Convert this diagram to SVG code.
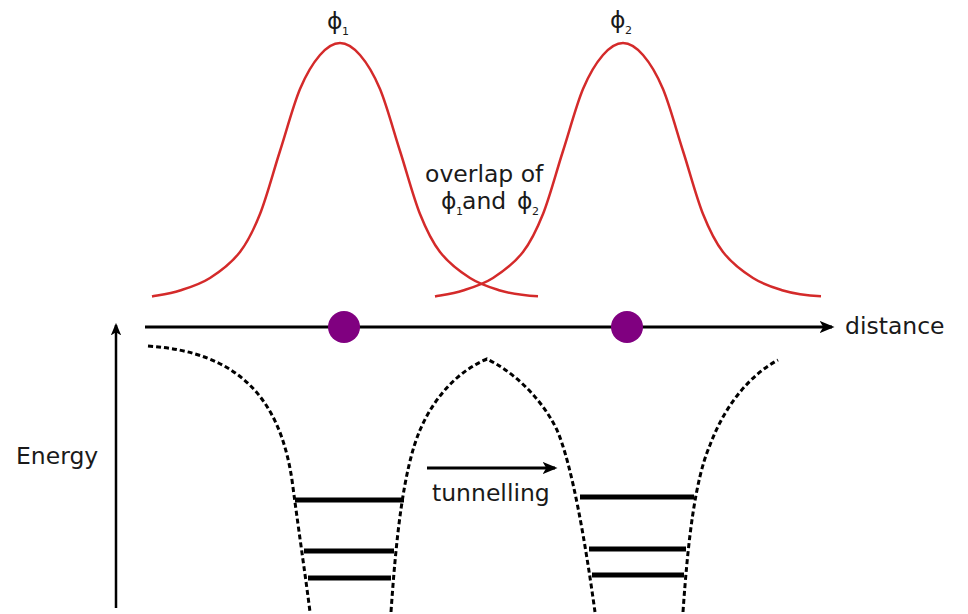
<svg xmlns="http://www.w3.org/2000/svg" width="968" height="614" viewBox="0 0 968 614">
<style>
text{font-family:"DejaVu Sans","Liberation Sans",sans-serif;fill:#1a1a1a}
.lbl{font-size:23.5px}
.sub{font-size:11px}
.wave{fill:none;stroke:#d42a2a;stroke-width:2.5}
.pot{fill:none;stroke:#000;stroke-width:3;stroke-dasharray:5 3}
.lvl{stroke:#000;stroke-width:5}
.ax{stroke:#000;stroke-width:3;fill:none}
</style>
<defs>
<marker id="ah" viewBox="0 0 12 10" refX="10" refY="5" markerWidth="5" markerHeight="4.5" orient="auto" markerUnits="strokeWidth">
<path d="M0,0 L12,5 L0,10 L3,5 Z" fill="#000"/>
</marker>
<path id="gauss" class="wave" d="M152,296.5 C156.7,295.5 170.3,293.6 180,290.5 C189.7,287.4 200,284.4 210,278 C220,271.6 231.7,262.7 240,252 C248.3,241.3 253.3,230.8 260,214 C266.7,197.2 273.3,171.8 280,151 C286.7,130.2 293.3,105 300,89 C306.7,73 313.3,62.7 320,55 C326.7,47.3 333.3,43 340,43 C346.7,43 353.3,47.3 360,55 C366.7,62.7 373.3,73 380,89 C386.7,105 393.3,130.2 400,151 C406.7,171.8 413.3,197.2 420,214 C426.7,230.8 431.7,241.3 440,252 C448.3,262.7 460,271.6 470,278 C480,284.4 490.3,287.4 500,290.5 C511,293.8 525,295.6 538,296.3"/>
</defs>
<rect width="968" height="614" fill="#fff"/>
<g id="wave1">
<use href="#gauss"/>
<text class="lbl" x="327" y="29">ϕ<tspan class="sub" x="342" y="35">1</tspan></text>
</g>
<g id="wave2">
<use href="#gauss" transform="translate(283,0)"/>
<text class="lbl" x="610" y="28">ϕ<tspan class="sub" x="625" y="34">2</tspan></text>
</g>
<g id="overlap-label">
<text class="lbl" x="425" y="182">overlap of</text>
<text class="lbl" x="441" y="209">ϕ<tspan class="sub" x="456" y="215">1</tspan><tspan x="462" y="209">and</tspan><tspan x="517" y="209">ϕ</tspan><tspan class="sub" x="532" y="215">2</tspan></text>
</g>
<g id="connectors">
<line class="ax" x1="145" y1="327" x2="832" y2="327" marker-end="url(#ah)"/>
<line class="ax" x1="116" y1="608" x2="116" y2="325" marker-end="url(#ah)" style="stroke-width:2.5"/>
<line class="ax" x1="427" y1="468" x2="555" y2="468" marker-end="url(#ah)"/>
</g>
<g id="atom1"><circle cx="344" cy="327" r="16" fill="#800080"/></g>
<g id="atom2"><circle cx="627" cy="327" r="16" fill="#800080"/></g>
<g id="axis-labels">
<text class="lbl" x="845" y="334">distance</text>
<text class="lbl" x="16" y="464">Energy</text>
<text class="lbl" x="432" y="501">tunnelling</text>
</g>
<g id="potential">
<path class="pot" d="M148,346 C240,352 280,400 292,480 C300,540 306,580 310,612"/>
<path class="pot" d="M391,612 C396,540 403,470 420,430 C435,395 460,370 487,359 C510,370 540,395 557,430 C572,465 585,540 595,612"/>
<path class="pot" d="M683,612 C688,540 695,480 710,445 C725,405 750,375 778,360"/>
</g>
<g id="levels-left">
<line class="lvl" x1="295" y1="500" x2="404" y2="500"/>
<line class="lvl" x1="304" y1="551" x2="394" y2="551"/>
<line class="lvl" x1="308" y1="578" x2="391" y2="578"/>
</g>
<g id="levels-right">
<line class="lvl" x1="580" y1="497" x2="694" y2="497"/>
<line class="lvl" x1="589" y1="549" x2="686" y2="549"/>
<line class="lvl" x1="592" y1="575" x2="684" y2="575"/>
</g>
</svg>
